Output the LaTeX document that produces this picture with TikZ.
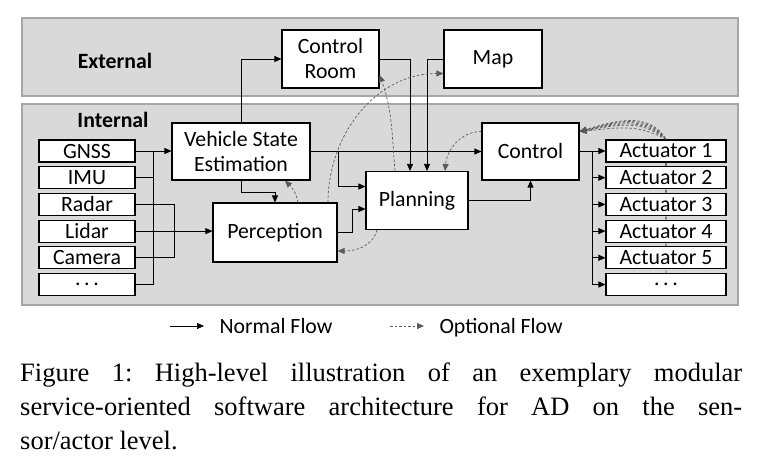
\documentclass[tikz,border=0pt]{standalone}
\usepackage{fontspec}
\setmainfont{Carlito}
\newfontfamily\capfont{Liberation Serif}
\usetikzlibrary{arrows.meta}
\pgfdeclarelayer{background}
\pgfsetlayers{background,main}

\begin{document}
\begin{tikzpicture}[
  x=1pt, y=-1pt,
  every node/.style={font=\fontsize{21.8}{25}\selectfont},
  panel/.style={draw=gray!70, line width=1.6pt, fill=gray!30},
  grouplbl/.style={font=\fontsize{21.8}{25}\selectfont\bfseries},
  blockbox/.style={rectangle, draw, line width=1.1pt, fill=white,
    align=center, inner sep=2pt},
  portbox/.style={blockbox, minimum width=96pt, minimum height=22pt,
    inner sep=0pt},
  actbox/.style={portbox, minimum width=120pt},
  wire/.style={line width=0.7pt},
  flow/.style={wire, -{Triangle[length=7pt,width=6pt]}},
  optflow/.style={flow, draw=black!65, dash pattern=on 2.5pt off 2pt},
  capbox/.style={text width=722pt, align=justify, inner sep=0pt,
    font=\capfont\fontsize{26.5}{34}\selectfont\frenchspacing},
]
\useasboundingbox (0,0) rectangle (758,474);

% Panels
\begin{pgfonlayer}{background}
  \fill[white] (0,0) rectangle (758,474);
  \draw[panel] (22,18) rectangle (738,96);
  \draw[panel] (22,104) rectangle (738,305);
\end{pgfonlayer}
\node[grouplbl] (extlbl) at (115,61) {External};
\node[grouplbl] (intlbl) at (113,120) {Internal};

% Sensors and actuators
\foreach \name/\txt [count=\i from 0] in
    {gnss/GNSS, imu/IMU, radar/Radar, lidar/Lidar, camera/Camera}
  \node[portbox] (\name) at (87,{151+26.7*\i}) {\txt};
\node[portbox] (smore) at (87,284.5) {.\,.\,.};
\foreach \i in {1,...,5}
  \node[actbox] (act\i) at (666,{151+26.7*(\i-1)}) {Actuator \i};
\node[actbox] (act6) at (666,284.5) {.\,.\,.};

% Modules
\node[blockbox, minimum width=97pt, minimum height=58pt] (croom) at (330.5,59) {Control\\Room};
\node[blockbox, minimum width=98pt, minimum height=58pt] (map) at (493,59) {Map};
\node[blockbox, minimum width=138pt, minimum height=57pt] (vse) at (241,151.5) {Vehicle State\\Estimation};
\node[blockbox, minimum width=124pt, minimum height=59pt] (perc) at (275,232.5) {Perception};
\node[blockbox, minimum width=102pt, minimum height=58pt] (plan) at (417,200.5) {Planning};
\node[blockbox, minimum width=97pt, minimum height=57pt] (ctrl) at (530.5,151.5) {Control};

% Normal flow
\coordinate (sbus) at (153,151);
\coordinate (pbus) at (174,231.1);
\coordinate (vbr) at (338,151.5);
\coordinate (abus) at (592,151.5);
\draw[flow] (gnss.east) -- (gnss.east -| vse.west);
\draw[wire] (imu.east) -| (sbus);
\draw[wire] (smore.east) -| (sbus);
\draw[wire] (radar.east) -| (pbus);
\draw[wire] (camera.east) -| (pbus);
\draw[flow] (lidar.east) -- (lidar.east -| perc.west);
\draw[flow] (vse.south) -- ++(0,12) -| (perc.north);
\draw[flow] (vse.north) |- (croom.west);
\draw[flow] (vse.east) -- (ctrl.west);
\draw[flow] (vbr) |- ([yshift=14pt]plan.west);
\draw[flow] (perc.east) -- ++(15,0) |- ([yshift=-8.5pt]plan.west);
\draw[flow] (croom.east) -| ([xshift=-7pt]plan.north);
\draw[flow] (map.west) -| ([xshift=10pt]plan.north);
\draw[flow] (plan.east) -| (ctrl.south);
\draw[wire] (ctrl.east) -- (abus) -- (abus |- act6.west);
\foreach \i in {1,...,6}
  \draw[flow] (abus |- act\i.west) -- (act\i.west);

% Optional flow
\draw[optflow] ([xshift=23pt]perc.north) to[out=100,in=-45] ([xshift=44pt]vse.south);
\draw[optflow] ([xshift=53pt]perc.north) to[out=90,in=180] ([yshift=-14.5pt]map.west);
\draw[optflow] ([xshift=-22pt]plan.north) to[out=95,in=-70] ([yshift=-16pt]croom.east);
\draw[optflow] ([xshift=-40pt]plan.south) to[out=-105,in=0] ([yshift=-18.5pt]perc.east);
\draw[optflow] ([yshift=20pt]ctrl.west) to[out=180,in=85] ([xshift=28pt]plan.north);
\draw[optflow] (act1.north) to[out=150,in=5] ([yshift=20pt]ctrl.east);
\begin{pgfonlayer}{background}
  \foreach \i in {2,...,6}
    \draw[optflow] (act\i.north) -- (act\i.north |- act1.north)
      to[out={150-5*\i},in={5+2*\i}] ([yshift=20pt]ctrl.east);
\end{pgfonlayer}

% Legend
\coordinate (nfs) at (170,326);
\coordinate (nfe) at (204,326);
\coordinate (ofs) at (390,326);
\coordinate (ofe) at (424,326);
\draw[flow] (nfs) -- (nfe);
\node[anchor=base west] (nflbl) at (216,333) {Normal Flow};
\draw[optflow] (ofs) -- (ofe);
\node[anchor=base west] (oflbl) at (436,333) {Optional Flow};

% Caption
\node[capbox, anchor=north west] (caption) at (20,363)
  {Figure 1: High-level illustration of an exemplary modular\linebreak
   service-oriented software architecture for AD on the sen-\linebreak
   sor/actor level.};

\end{tikzpicture}
\end{document}
